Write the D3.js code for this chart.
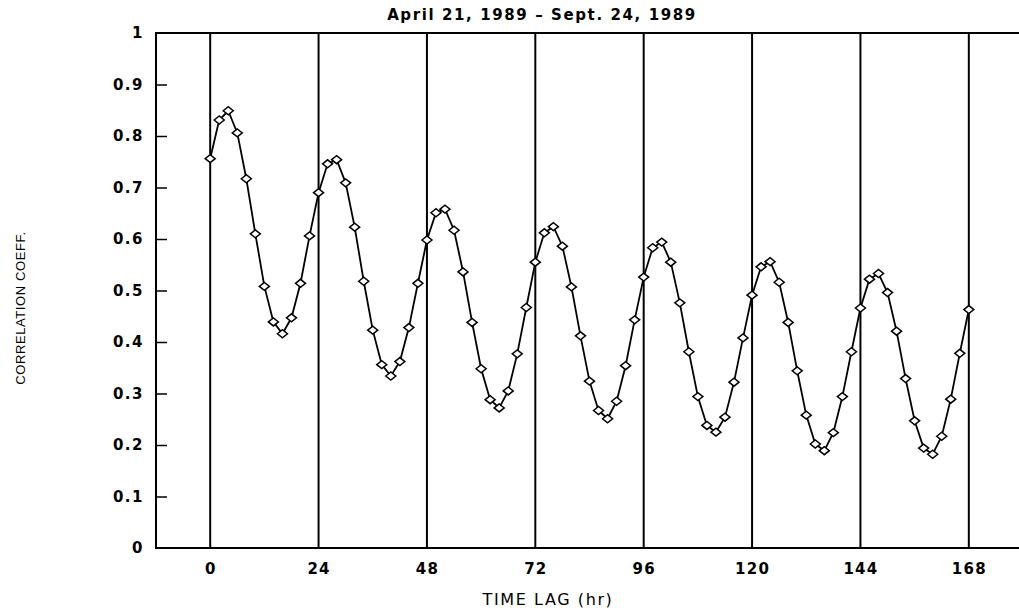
<!DOCTYPE html>
<html>
<head>
<meta charset="utf-8">
<script src="https://cdn.jsdelivr.net/npm/d3@7"></script>
<style>
  html, body { margin: 0; padding: 0; background: #fff; }
  svg { display: block; }
</style>
</head>
<body>
<svg id="chart" width="1019" height="612"></svg>
<script>
// ---- data ----
const titleText = "April 21, 1989 \u2013 Sept. 24, 1989";
const xLabel = "TIME LAG (hr)";
const yLabel = "CORRELATION COEFF.";
const lagHours = [0,2,4,6,8,10,12,14,16,18,20,22,24,26,28,30,32,34,36,38,40,42,44,46,48,50,52,54,56,58,60,62,64,66,68,70,72,74,76,78,80,82,84,86,88,90,92,94,96,98,100,102,104,106,108,110,112,114,116,118,120,122,124,126,128,130,132,134,136,138,140,142,144,146,148,150,152,154,156,158,160,162,164,166,168];
const correlation = [
  0.756, 0.831, 0.849, 0.806, 0.717, 0.610, 0.508, 0.439, 0.416, 0.447, 0.514, 0.606,
  0.690, 0.746, 0.754, 0.709, 0.623, 0.518, 0.423, 0.356, 0.334, 0.362, 0.428, 0.514,
  0.598, 0.651, 0.658, 0.617, 0.536, 0.438, 0.348, 0.288, 0.272, 0.305, 0.377, 0.467,
  0.555, 0.612, 0.624, 0.586, 0.507, 0.412, 0.324, 0.267, 0.251, 0.285, 0.354, 0.443,
  0.526, 0.583, 0.594, 0.555, 0.476, 0.381, 0.294, 0.238, 0.225, 0.254, 0.322, 0.408,
  0.491, 0.546, 0.556, 0.516, 0.438, 0.344, 0.258, 0.202, 0.189, 0.224, 0.294, 0.381,
  0.466, 0.522, 0.533, 0.496, 0.421, 0.329, 0.247, 0.194, 0.182, 0.217, 0.289, 0.378,
  0.463
];
const xTicks = [0, 24, 48, 72, 96, 120, 144, 168];
const yTicks = [0, 0.1, 0.2, 0.3, 0.4, 0.5, 0.6, 0.7, 0.8, 0.9, 1];
const yTickLabels = ["0", "0.1", "0.2", "0.3", "0.4", "0.5", "0.6", "0.7", "0.8", "0.9", "1"];
const xDomain = [-12, 180];
const yDomain = [0, 1];

// ---- drawing ----
const svg = d3.select("#chart");
const mLeft = 156, mRight = 1023, mTop = 33, mBottom = 548;
const x = d3.scaleLinear().domain(xDomain).range([mLeft, mRight]);
const y = d3.scaleLinear().domain(yDomain).range([mBottom, mTop]);

const boldFont = "'DejaVu Sans', sans-serif";

// vertical grid lines at x ticks
svg.append("g").selectAll("line").data(xTicks).join("line")
  .attr("x1", d => x(d)).attr("x2", d => x(d))
  .attr("y1", y(0)).attr("y2", y(1))
  .attr("stroke", "#000").attr("stroke-width", 2);

// frame: left, top, bottom
svg.append("path")
  .attr("d", `M${mRight},${y(1)}H${x(xDomain[0])}V${y(0)}H${mRight}`)
  .attr("fill", "none").attr("stroke", "#000").attr("stroke-width", 2);

// y axis (inward ticks)
const yAxis = d3.axisRight(y).tickValues(yTicks.slice(1, -1)).tickSize(11).tickFormat("");
const yg = svg.append("g").attr("transform", `translate(${x(xDomain[0])},0)`).call(yAxis);
yg.select(".domain").remove();
yg.selectAll(".tick line").attr("stroke", "#000").attr("stroke-width", 1.5);

// y tick labels
svg.append("g").selectAll("text").data(yTicks).join("text")
  .attr("x", 144).attr("y", d => y(d))
  .attr("dy", "0.36em")
  .attr("text-anchor", "end")
  .attr("font-family", boldFont).attr("font-weight", "bold").attr("font-size", 15)
  .attr("letter-spacing", 1.5)
  .text((d, i) => yTickLabels[i]);

// x axis labels
const xAxis = d3.axisBottom(x).tickValues(xTicks).tickSize(0).tickPadding(15).tickFormat(d3.format("d"));
const xg = svg.append("g").attr("transform", `translate(0,${y(0)})`).call(xAxis);
xg.select(".domain").remove();
xg.selectAll(".tick text")
  .attr("font-family", boldFont).attr("font-weight", "bold").attr("font-size", 15)
  .attr("letter-spacing", 1.2).attr("fill", "#000");

// data line
const line = d3.line().x((d, i) => x(lagHours[i])).y(d => y(d));
svg.append("path").datum(correlation)
  .attr("d", line)
  .attr("fill", "none").attr("stroke", "#000").attr("stroke-width", 1.8);

// diamond markers
const hw = 5, hh = 4;
svg.append("g").selectAll("path").data(correlation).join("path")
  .attr("transform", (d, i) => `translate(${x(lagHours[i])},${y(d)})`)
  .attr("d", `M${-hw},0L0,${-hh}L${hw},0L0,${hh}Z`)
  .attr("fill", "#fff").attr("stroke", "#000").attr("stroke-width", 1.5);

// title
svg.append("text")
  .attr("x", 542).attr("y", 20)
  .attr("text-anchor", "middle")
  .attr("font-family", boldFont).attr("font-weight", "bold").attr("font-size", 15)
  .attr("letter-spacing", 1.6)
  .text(titleText);

// x label
svg.append("text")
  .attr("x", 548).attr("y", 605)
  .attr("text-anchor", "middle")
  .attr("font-family", "'DejaVu Sans', sans-serif").attr("font-size", 16)
  .attr("letter-spacing", 1.6)
  .text(xLabel);

// y label
svg.append("text")
  .attr("transform", "translate(25,308) rotate(-90)")
  .attr("text-anchor", "middle")
  .attr("font-family", "'Liberation Sans', Arial, sans-serif").attr("font-size", 13)
  .attr("letter-spacing", 0.6)
  .text(yLabel);
</script>
</body>
</html>
